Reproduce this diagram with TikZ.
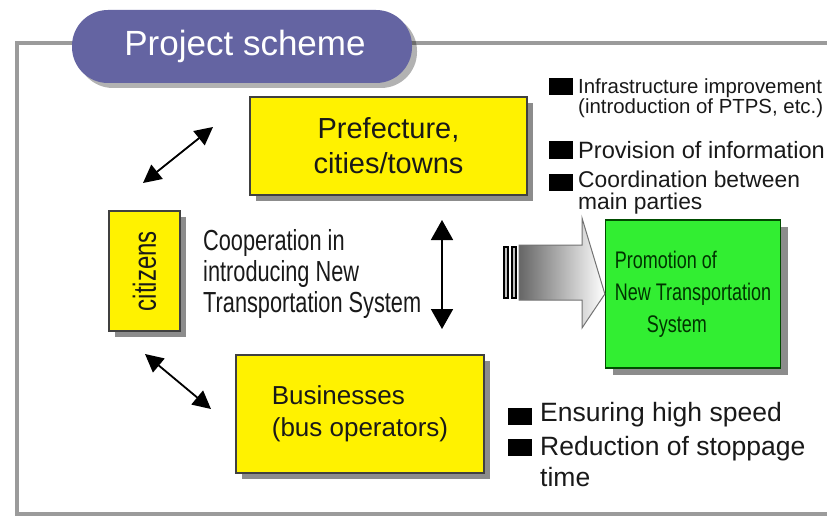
\documentclass[tikz,border=0pt]{standalone}
\usepackage{xcolor}
\usepackage{fontspec}
\usepackage{tikz}
\usetikzlibrary{arrows.meta,shadows}
\setmainfont{Liberation Sans}
\newfontfamily\narrowfont[FakeStretch=0.75]{Liberation Sans}

\definecolor{pillblue}{RGB}{100,100,162}
\definecolor{framegray}{RGB}{155,155,155}
\definecolor{promogreen}{RGB}{50,238,50}
\definecolor{inkgray}{RGB}{25,25,25}
\newcommand{\fsz}[2]{\fontsize{#1}{#2}\selectfont}

\tikzset{
  ybox/.style={draw=black!75, line width=1.3pt, fill=yellow, inner sep=0pt,
    drop shadow={shadow xshift=6pt, shadow yshift=-6pt, fill=black, opacity=0.45}},
  dblarr/.style={{Triangle[length=18pt,width=18pt]}-{Triangle[length=18pt,width=18pt]},
    line width=1.8pt, black},
  sq/.style={fill=black, minimum width=24pt, minimum height=17pt, inner sep=0pt},
  bullettext/.style={anchor=west, inner sep=0pt, align=left, text=inkgray}
}

\begin{document}
\begin{tikzpicture}[x=1pt, y=-1pt]
    \useasboundingbox[fill=white] (0,0) rectangle (827,516);
    % outer frame
    \draw[framegray, line width=4.5pt] (17,43) rectangle (845,514);
    % title
    \node (title) [fill=pillblue, rounded corners=36pt, minimum width=340pt,
        minimum height=73pt, inner sep=0pt, text=white, font=\fsz{35}{40},
        drop shadow={shadow xshift=5pt, shadow yshift=-5pt, fill=black, opacity=0.3}]
        at (242,46.5) {\hspace{6pt}Project scheme};

    % main boxes
    \node (pref) [ybox, minimum width=277pt, minimum height=98pt, align=center,
        font=\fsz{29}{35}, text=inkgray] at (388.5,146) {Prefecture,\\cities/towns};
    \node (cit) [ybox, minimum width=71pt, minimum height=120pt,
        font=\narrowfont\fsz{32}{34}, text=inkgray] at (144.5,271)
        {\rotatebox{90}{citizens}};
    \node (bus) [ybox, minimum width=248pt, minimum height=118pt, align=left,
        font=\fsz{26}{32}, text=inkgray] at (360,414) {Businesses\\(bus operators)};
    \node (promo) [draw=black!70!green, line width=1.3pt, fill=promogreen,
        minimum width=175pt, minimum height=148pt, inner sep=0pt, align=left,
        font=\narrowfont\fsz{24}{32}, text=black!80!green,
        drop shadow={shadow xshift=7pt, shadow yshift=-7pt, fill=black, opacity=0.45}]
        at (693,294) {Promotion of\\New Transportation\\\hspace{32pt}System};

    \node (coop) [anchor=west, align=left, inner sep=0pt, font=\narrowfont\fsz{29}{31},
        text=inkgray] at (203,274) {Cooperation in\\introducing New\\Transportation System};

    % double arrows
    \coordinate (prefA) at (213,127);
    \coordinate (citA) at (143,183);
    \coordinate (citB) at (145,354);
    \coordinate (busA) at (211,409);
    \coordinate (coopU) at (442,220);
    \coordinate (coopD) at (442,329);
    \draw[dblarr] (citA) -- (prefA);
    \draw[dblarr] (citB) -- (busA);
    \draw[dblarr, {Triangle[length=20pt,width=22pt]}-{Triangle[length=20pt,width=22pt]}]
        (coopU) -- (coopD);

    % big push arrow
    \shade[left color=black!60, right color=white, draw=black!55, line width=1pt]
        (519,245) -- (582,245) -- (582,218) -- (promo.west) -- (582,328)
        -- (582,300) -- (519,300) -- cycle;
    \draw[black, line width=1.5pt, fill=black!25] (504,247) rectangle (508,298);
    \draw[black, line width=1.5pt, fill=black!25] (512,247) rectangle (516,298);

    % bullets, upper right
    \node (sqA) [sq] at (560.5,86.5) {};
    \node (txA) [bullettext, font=\fsz{20.4}{20}] at (578,98) {Infrastructure improvement\\(introduction of PTPS, etc.)};
    \node (sqB) [sq] at (560.5,150) {};
    \node (txB) [bullettext, font=\fsz{23.6}{26}] at (578,150) {Provision of information};
    \node (sqC) [sq] at (560.5,182) {};
    \node (txC) [bullettext, font=\fsz{22.8}{22}] at (578,193) {Coordination between\\main parties};

    % bullets, lower right
    \node (sqD) [sq] at (520,416.5) {};
    \node (txD) [bullettext, font=\fsz{26.5}{31}] at (540,415) {Ensuring high speed};
    \node (sqE) [sq] at (520,447) {};
    \node (txE) [bullettext, font=\fsz{26.5}{31}] at (540,462) {Reduction of stoppage\\time};
\end{tikzpicture}
\end{document}
